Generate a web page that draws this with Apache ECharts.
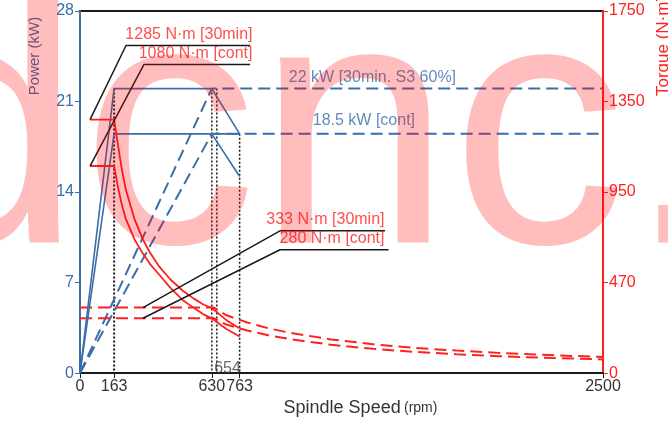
<!DOCTYPE html>
<html>
<head>
<meta charset="utf-8">
<script src="https://cdn.jsdelivr.net/npm/echarts@6/dist/echarts.min.js"></script>
<style>
html, body { margin: 0; padding: 0; background: #fff; }
#chart { width: 668px; height: 422px; }
</style>
</head>
<body>
<div id="chart"></div>
<script>
// axis ticks
var speedTicks = [0, 163, 630, 763, 2500];
var powerTicks = [0, 7, 14, 21, 28];
var torqueTicks = [0, 470, 950, 1350, 1750];

// power curves [rpm, kW]
var pow30Low = [[0, 0], [163, 22], [630, 22], [763, 18.5]];
var powContLow = [[0, 0], [163, 18.5], [630, 18.5], [763, 15.2]];
var powContMid = [[630, 18.5], [763, 18.5]];
var pow30High = [[0, 0], [630, 22], [2500, 22]];
var powContHigh = [[0, 0], [630, 18.5], [2500, 18.5]];

// torque curves (N·m)
var trqSpeedLow = [48, 163, 183, 199, 218, 260, 300, 335, 380, 430, 490, 542, 590, 630, 700, 763];
var trq30Low = [1270, 1270, 1150, 1055, 965, 808, 700, 628, 553, 489, 429, 388, 356, 338, 275, 231];
var trqContLow = [1065, 1065, 965, 888, 810, 700, 625, 568, 510, 445, 380, 340, 305, 284, 229, 190];
var trqSpeedHigh = [0, 640, 700, 800, 900, 1000, 1200, 1400, 1600, 1800, 2000, 2200, 2500];
var trq30High = [340, 340, 300, 263, 233, 210, 175, 150, 131, 117, 105, 95, 84];
var trqContHigh = [285, 285, 252, 221, 196, 177, 147, 126, 110, 98, 88, 80, 71];

// dotted guides [rpm, top kW]
var guides = [[163, 22], [630, 22], [654, 22], [763, 18.5]];

var BLUE = '#3a6ea8';
var RED = '#ff2020';
var INK = '#1a1a1a';

// torque -> power axis units (right axis labels are not evenly spaced)
function tq(t) {
	for (var i = 1; i < torqueTicks.length; i++) {
		if (t <= torqueTicks[i] || i === torqueTicks.length - 1) {
			var a = torqueTicks[i - 1], b = torqueTicks[i];
			return powerTicks[i - 1] + (t - a) / (b - a) * (powerTicks[i] - powerTicks[i - 1]);
		}
	}
}
function trqLine(speeds, vals) {
	return speeds.map(function (s, i) { return [s, tq(vals[i])]; });
}

// label annotations
var notes = [
	{ text: '1285 N·m [30min]', color: RED, path: [[48, tq(1270)], [220, 25.33], [813, 25.33]], at: [827, 26.17], pos: 'left' },
	{ text: '1080 N·m [cont]', color: RED, path: [[48, tq(1065)], [306, 23.87], [813, 23.87]], at: [827, 24.71], pos: 'left' },
	{ text: '333 N·m [30min]', color: RED, path: [[301, tq(340)], [956, 11.0], [1458, 11.0]], at: [1458, 11.84], pos: 'left' },
	{ text: '280 N·m [cont]', color: RED, path: [[301, tq(285)], [956, 9.54], [1475, 9.54]], at: [1458, 10.38], pos: 'left' },
	{ text: '22 kW [30min. S3 60%]', color: BLUE, at: [1398, 22.87], pos: 'inside' },
	{ text: '18.5 kW [cont]', color: BLUE, at: [1357, 19.5], pos: 'inside' },
	{ text: '654', color: '#444', at: [705, 0.35], pos: 'inside' }
];

function line(data, color, type, width, z) {
	return {
		type: 'line', data: data, symbol: 'none', animation: false, z: z || 3,
		lineStyle: { color: color, type: type, width: width }
	};
}

var series = [];
guides.forEach(function (g) {
	series.push(line([[g[0], g[1]], [g[0], 0]], INK, [2, 2], g[0] === 163 ? 2 : 1.5, 2));
});
series.push(line(pow30High, BLUE, [12, 6], 2));
series.push(line(powContHigh, BLUE, [12, 6], 2));
series.push(line(trqLine(trqSpeedHigh, trq30High), RED, [12, 6], 2));
series.push(line(trqLine(trqSpeedHigh, trqContHigh), RED, [12, 6], 2));
series.push(line(pow30Low, BLUE, 'solid', 1.6, 4));
series.push(line(powContLow, BLUE, 'solid', 1.6, 4));
series.push(line(powContMid, BLUE, 'solid', 1.6, 4));
series.push(line(trqLine(trqSpeedLow, trq30Low), RED, 'solid', 1.8, 4));
series.push(line(trqLine(trqSpeedLow, trqContLow), RED, 'solid', 1.8, 4));
notes.forEach(function (n) {
	if (n.path) series.push(line(n.path, INK, 'solid', 1.5, 5));
});
series.push({
	type: 'scatter', symbolSize: 1, animation: false, z: 6,
	itemStyle: { color: 'transparent' },
	data: notes.map(function (n) {
		return {
			value: n.at,
			label: {
				show: true, formatter: n.text, position: n.pos, distance: 0,
				color: n.color, fontSize: 16, fontFamily: 'Liberation Sans'
			}
		};
	})
});

var chart = echarts.init(document.getElementById('chart'));
chart.setOption({
	animation: false,
	textStyle: { fontFamily: 'Liberation Sans' },
	grid: { left: 80, right: 65, top: 11, bottom: 46, show: true, borderColor: INK, borderWidth: 2 },
	xAxis: {
		type: 'value', min: 0, max: 2500,
		name: '{a|Spindle Speed} {b|(rpm)}', nameLocation: 'middle', nameGap: 24,
		nameTextStyle: {
			padding: [0, 0, 0, 38],
			rich: { a: { fontSize: 18, color: '#333' }, b: { fontSize: 14, color: '#333' } }
		},
		axisLine: { lineStyle: { color: INK, width: 2 } },
		axisTick: { customValues: speedTicks, length: 5, lineStyle: { color: INK } },
		axisLabel: { customValues: speedTicks, fontSize: 16, color: '#333', margin: 5,
			formatter: function (v) { return String(v); } },
		splitLine: { show: false }
	},
	yAxis: [{
		type: 'value', min: 0, max: 28, interval: 7, position: 'left',
		axisLine: { show: true, lineStyle: { color: BLUE, width: 2 } },
		axisTick: { show: true, length: 5, lineStyle: { color: BLUE } },
		axisLabel: { fontSize: 16, color: BLUE, margin: 6 },
		splitLine: { show: false }
	}, {
		type: 'value', min: 0, max: 28, interval: 7, position: 'right',
		axisLine: { show: true, lineStyle: { color: RED, width: 2 } },
		axisTick: { show: true, length: 5, lineStyle: { color: RED } },
		axisLabel: {
			fontSize: 16, color: RED, margin: 6,
			formatter: function (v) {
				var i = powerTicks.indexOf(v);
				return i >= 0 ? String(torqueTicks[i]) : '';
			}
		},
		splitLine: { show: false }
	}],
	graphic: [
		{ type: 'text', x: 35, y: 56, rotation: Math.PI / 2, silent: true,
			style: { text: 'Power (kW)', font: '15px "Liberation Sans"', fill: BLUE, textAlign: 'center', textVerticalAlign: 'middle' } },
		{ type: 'text', x: 663, y: 46, rotation: Math.PI / 2, silent: true,
			style: { text: 'Torque (N·m)', font: '17px "Liberation Sans"', fill: RED, textAlign: 'center', textVerticalAlign: 'middle' } },
		{ type: 'text', x: -113, y: -29, z: 100, silent: true,
			style: { text: 'dcnc.', font: '350px "Liberation Sans"', fill: 'rgba(255,0,0,0.26)', textAlign: 'left', textVerticalAlign: 'top' } }
	],
	series: series
});
</script>
</body>
</html>
